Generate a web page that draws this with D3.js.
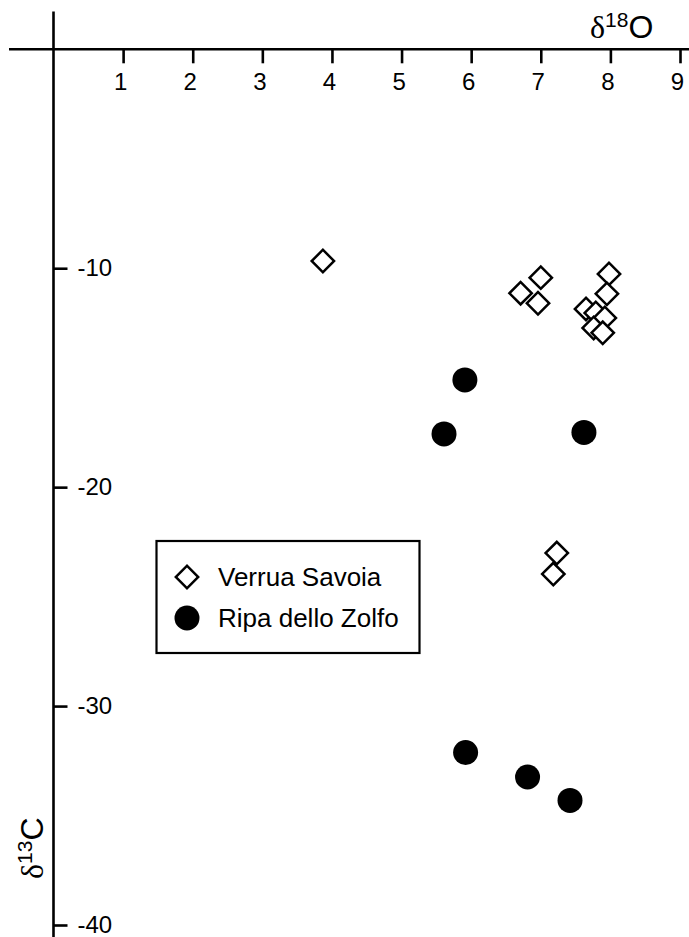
<!DOCTYPE html>
<html>
<head>
<meta charset="utf-8">
<script src="https://cdn.jsdelivr.net/npm/d3@7"></script>
<style>
  body { margin: 0; background: #fff; }
  svg { display: block; font-family: "Liberation Sans", Arial, sans-serif; }
  .tick text { font-size: 24px; font-family: "Liberation Sans", Arial, sans-serif; }
</style>
</head>
<body>
<svg id="chart" width="689" height="937"></svg>
<script>
// delta 18O (x) and delta 13C (y) readings
var verruaX = [3.87, 7.00, 6.71, 6.96, 7.98, 7.95, 7.65, 7.79, 7.92, 7.76, 7.89, 7.23, 7.18];
var verruaY = [-9.67, -10.43, -11.14, -11.60, -10.26, -11.17, -11.86, -12.04, -12.27, -12.73, -12.95, -23.01, -23.97];
var ripaX = [5.91, 5.61, 7.62, 5.92, 6.81, 7.42];
var ripaY = [-15.10, -17.57, -17.50, -32.12, -33.24, -34.31];
var xTicks = [1, 2, 3, 4, 5, 6, 7, 8, 9];
var yTicks = [-10, -20, -30, -40];
var seriesNames = ["Verrua Savoia", "Ripa dello Zolfo"];

var svg = d3.select("#chart");

var x = d3.scaleLinear().domain([0, 9]).range([53.5, 680]);
var y = d3.scaleLinear().domain([0, -40]).range([49.3, 925]);

// axis lines, drawn across the whole frame
svg.append("line")
    .attr("x1", 9).attr("x2", 689)
    .attr("y1", y(0)).attr("y2", y(0))
    .attr("stroke", "#000").attr("stroke-width", 2.6);
svg.append("line")
    .attr("x1", x(0)).attr("x2", x(0))
    .attr("y1", 11.5).attr("y2", 937)
    .attr("stroke", "#000").attr("stroke-width", 2.6);

var xAxis = svg.append("g")
    .attr("transform", "translate(0," + y(0) + ")")
    .call(d3.axisBottom(x).tickValues(xTicks).tickSize(14).tickPadding(10).tickFormat(String));
xAxis.select(".domain").remove();
xAxis.selectAll(".tick line").attr("stroke-width", 2.6);
xAxis.selectAll(".tick text")
    .attr("dx", -3)
    .attr("font-size", 24)
    .attr("fill", "#000");

var yAxis = svg.append("g")
    .attr("transform", "translate(" + x(0) + ",0)")
    .call(d3.axisRight(y).tickValues(yTicks).tickSize(14).tickPadding(10).tickFormat(String));
yAxis.select(".domain").remove();
yAxis.selectAll(".tick line").attr("stroke-width", 2.6);
yAxis.selectAll(".tick text")
    .attr("font-size", 24)
    .attr("fill", "#000");

// axis titles
var xTitle = svg.append("text")
    .attr("x", 590).attr("y", 38)
    .style("font-size", "32px");
xTitle.append("tspan").style("font-family", "Liberation Serif, serif").text("δ");
xTitle.append("tspan").attr("dy", -11).style("font-size", "21px").text("18");
xTitle.append("tspan").attr("dy", 11).text("O");

var yTitle = svg.append("text")
    .attr("transform", "translate(43,879) rotate(-90)")
    .style("font-size", "32px");
yTitle.append("tspan").style("font-family", "Liberation Serif, serif").text("δ");
yTitle.append("tspan").attr("dy", -11).style("font-size", "21px").text("13");
yTitle.append("tspan").attr("dy", 11).text("C");

var diamond = d3.symbol().type(d3.symbolSquare).size(250);

// Verrua Savoia: open diamonds
svg.append("g").selectAll("path")
    .data(d3.range(verruaX.length))
    .join("path")
    .attr("d", diamond)
    .attr("transform", function (i) { return "translate(" + x(verruaX[i]) + "," + y(verruaY[i]) + ") rotate(45)"; })
    .attr("fill", "#fff")
    .attr("stroke", "#000")
    .attr("stroke-width", 2.5);

// Ripa dello Zolfo: filled circles
svg.append("g").selectAll("circle")
    .data(d3.range(ripaX.length))
    .join("circle")
    .attr("cx", function (i) { return x(ripaX[i]); })
    .attr("cy", function (i) { return y(ripaY[i]); })
    .attr("r", 12.5)
    .attr("fill", "#000");

// legend
var legend = svg.append("g");
legend.append("rect")
    .attr("x", 156.5).attr("y", 541)
    .attr("width", 263).attr("height", 112)
    .attr("fill", "#fff")
    .attr("stroke", "#000").attr("stroke-width", 2.2);
legend.append("path")
    .attr("d", diamond)
    .attr("transform", "translate(187,577) rotate(45)")
    .attr("fill", "#fff").attr("stroke", "#000").attr("stroke-width", 2.5);
legend.append("circle")
    .attr("cx", 187).attr("cy", 618).attr("r", 12.5)
    .attr("fill", "#000");
legend.selectAll("text")
    .data(seriesNames)
    .join("text")
    .attr("x", 218)
    .attr("y", function (d, i) { return 586 + i * 41; })
    .style("font-size", "26px")
    .text(function (d) { return d; });
</script>
</body>
</html>
